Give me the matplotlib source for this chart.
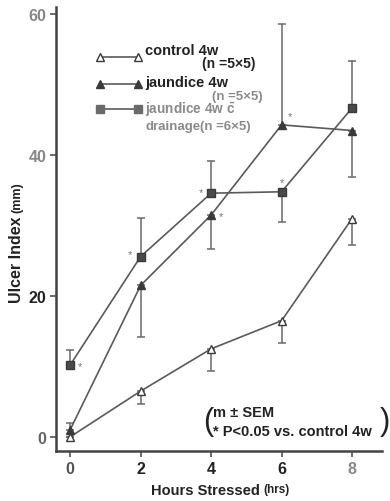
import matplotlib.pyplot as plt

# data
hours = [0, 2, 4, 6, 8]

control = [0.0, 6.5, 12.5, 16.5, 31.0]
control_lo = [0.0, 1.8, 3.1, 3.2, 3.7]
control_hi = [0.0, 0.0, 0.0, 0.0, 0.0]

jaundice = [1.0, 21.5, 31.5, 44.3, 43.5]
jaundice_lo = [0.0, 7.3, 4.8, 0.0, 6.6]
jaundice_hi = [1.0, 0.0, 0.0, 14.3, 0.0]

drainage = [10.2, 25.6, 34.6, 34.8, 46.7]
drainage_lo = [0.0, 0.0, 0.0, 4.3, 0.0]
drainage_hi = [2.2, 5.5, 4.5, 0.0, 6.6]

# significance stars: (series, hour, x offset pt, y offset pt)
stars = [
    ("drainage", 0, 7, -1),
    ("drainage", 2, -8, 2),
    ("drainage", 4, -7, 1),
    ("jaundice", 4, 7, -1),
    ("drainage", 6, 0, 7),
    ("jaundice", 6, 6, 6),
]

plt.rcParams["font.family"] = ["Liberation Sans", "DejaVu Sans"]
plt.rcParams["mathtext.fontset"] = "custom"
plt.rcParams["mathtext.rm"] = "Liberation Sans"
plt.rcParams["mathtext.bf"] = "Liberation Sans:bold"
LINE = "#5a5a5a"
DARK = "#3a3a3a"
GREY_TXT = "#8a8a8a"

fig = plt.figure(figsize=(3.9, 5.02), dpi=100)
ax = fig.add_axes([0.1436, 0.0996, 0.836, 0.884])

series = {
    "control": (control, control_lo, control_hi, "^", "white"),
    "jaundice": (jaundice, jaundice_lo, jaundice_hi, "^", DARK),
    "drainage": (drainage, drainage_lo, drainage_hi, "s", "#4a4a4a"),
}

for name, (vals, lo, hi, mk, fc) in series.items():
    ax.errorbar(hours, vals, yerr=[lo, hi], fmt="none", ecolor="#6a6a6a",
                elinewidth=1.1, capsize=3, capthick=1.1, zorder=2)
    ax.plot(hours, vals, color=LINE, lw=1.2, marker=mk, ms=6,
            mfc=fc, mec=DARK, mew=1.0, zorder=3)

for name, h, dx, dy in stars:
    vals = series[name][0]
    i = hours.index(h)
    ax.annotate("*", xy=(hours[i], vals[i]), xytext=(dx, dy),
                textcoords="offset points", ha="center", va="center",
                fontsize=8, color="#777777")

ax.set_xlim(-0.4, 8.85)
ax.set_ylim(-2.0, 61.0)
ax.set_xticks(hours)
ax.set_yticks([0, 20, 40, 60])
ax.set_xticklabels([str(h) for h in hours], fontsize=11.5, fontweight="bold")
ax.set_yticklabels(["0", "20", "40", "60"], fontsize=11.5, fontweight="bold")
ax.tick_params(direction="out", length=4, width=1.1, colors="#444444", pad=3)
for lab, c in zip(ax.get_xticklabels(), ["#555555", "#222222", "#222222", "#222222", "#888888"]):
    lab.set_color(c)
for lab, c in zip(ax.get_yticklabels(), ["#666666", "#222222", "#888888", "#888888"]):
    lab.set_color(c)
for side in ["top", "right"]:
    ax.spines[side].set_visible(False)
for side in ["left", "bottom"]:
    ax.spines[side].set_linewidth(1.8)
    ax.spines[side].set_color("#444444")


def px(x, y):
    return (x - 56) / 326, (452 - y) / 444


# axis titles with the smaller unit part
tx, ty = px(260, 491)
ax.text(tx, ty, "Hours Stressed", transform=ax.transAxes, ha="right",
        va="center", fontsize=10.5, fontweight="bold", color="#222222")
tx, ty = px(263, 490)
ax.text(tx, ty, "(hrs)", transform=ax.transAxes, ha="left",
        va="center", fontsize=8.5, fontweight="bold", color="#222222")
tx, ty = px(17, 303)
ax.text(tx, ty, "Ulcer Index", transform=ax.transAxes, ha="center",
        va="bottom", rotation=90, fontsize=11.5, fontweight="bold",
        color="#222222")
tx, ty = px(17, 213)
ax.text(tx, ty, "(mm)", transform=ax.transAxes, ha="center",
        va="bottom", rotation=90, fontsize=9, fontweight="bold",
        color="#222222")

# legend drawn by hand
leg = [
    ("^", "white", DARK, 58, 51, "control 4w", 10.5, "#222222"),
    ("^", DARK, DARK, 85, 83, "jaundice 4w", 10.5, "#222222"),
    ("s", "#6a6a6a", "#6a6a6a", 110, 110, r"jaundice 4w $\mathbf{\bar{c}}$", 9.8, GREY_TXT),
]
for mk, fc, ec, y, ty_px, lab, fs, tc in leg:
    x0, yy = px(100, y)
    x1, _ = px(138, y)
    ax.plot([x0, x1], [yy, yy], transform=ax.transAxes, color=LINE, lw=1.2,
            marker=mk, ms=6, mfc=fc, mec=ec, clip_on=False)
    tx, ty = px(145, ty_px)
    ax.text(tx, ty, lab, transform=ax.transAxes, ha="left", va="center",
            fontsize=fs, fontweight="bold", color=tc)

for x, y, lab, fs, tc in [(202, 64, "(n =5\u00d75)", 10, "#222222"),
                          (212, 97, "(n =5\u00d75)", 9.5, GREY_TXT),
                          (145, 127, "drainage", 9.5, GREY_TXT),
                          (200, 127, "(n =6\u00d75)", 9.5, GREY_TXT)]:
    tx, ty = px(x, y)
    ax.text(tx, ty, lab, transform=ax.transAxes, ha="left", va="center",
            fontsize=fs, fontweight="bold", color=tc)

# note at lower right
bx, by = px(203, 422)
ax.text(bx, by, "(", transform=ax.transAxes, ha="left", va="center",
        fontsize=22, color="#222222")
bx, by = px(380, 422)
ax.text(bx, by, ")", transform=ax.transAxes, ha="left", va="center",
        fontsize=22, color="#222222")
bx, by = px(213, 413)
ax.text(bx, by, "m \u00b1 SEM", transform=ax.transAxes, ha="left",
        va="center", fontsize=10.5, fontweight="bold", color="#222222")
bx, by = px(213, 432)
ax.text(bx, by, "* P<0.05 vs. control 4w", transform=ax.transAxes,
        ha="left", va="center", fontsize=10.5, fontweight="bold",
        color="#222222")

fig.savefig("out.png", dpi=100)
